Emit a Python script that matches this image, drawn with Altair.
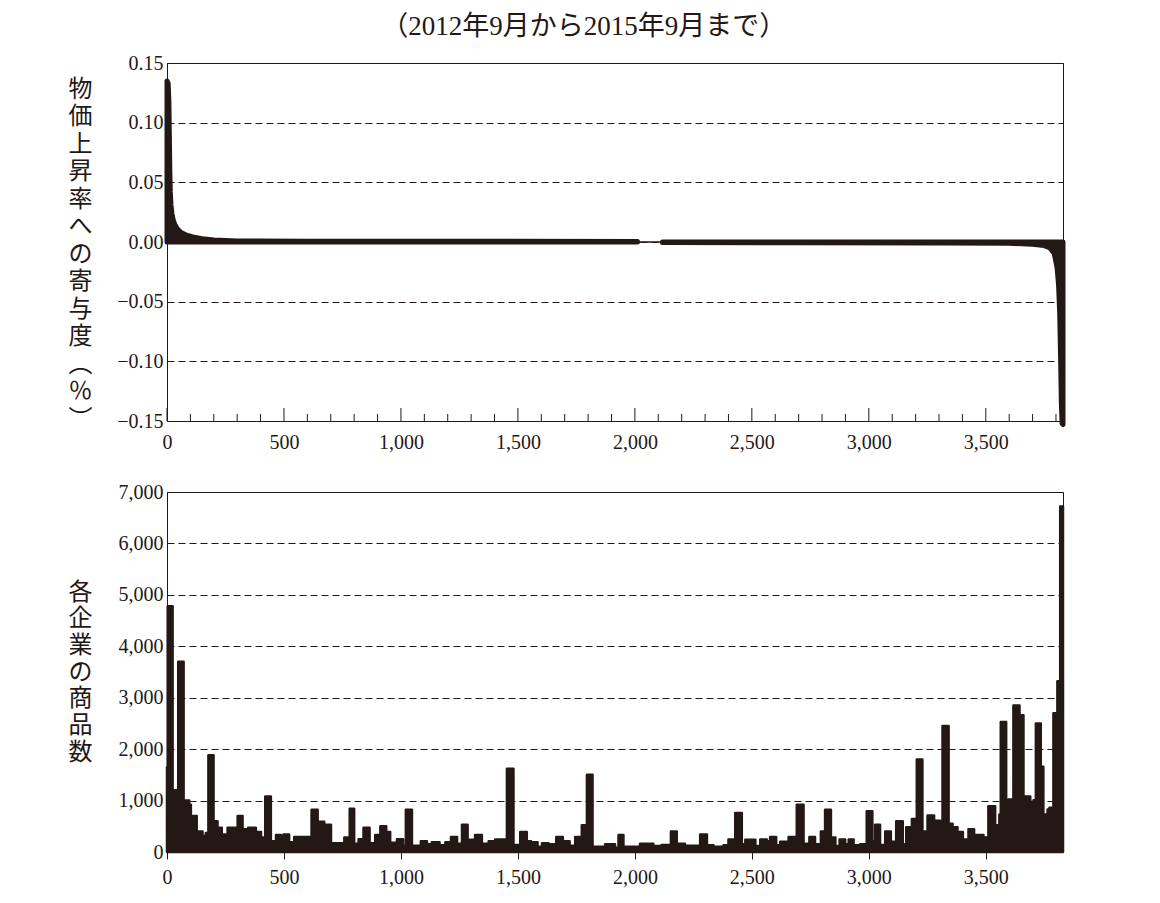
import altair as alt
import pandas as pd

INK = "#231815"

TITLE = "（2012年9月から2015年9月まで）"
TOP_YTITLE = list("物価上昇率への寄与度") + ["︵", "％", "︶"]
BOT_YTITLE = list("各企業の商品数")

X_MAX = 3830

# top panel: contribution to inflation (sorted), positive part
pos_rank = [0, 5, 8, 10, 12, 14, 17, 21, 27, 35, 46, 60, 80, 110, 150, 200, 300, 600, 1200, 2011]
pos_val = [0.135, 0.133, 0.118, 0.09, 0.06, 0.042, 0.031, 0.024, 0.018, 0.014, 0.0105, 0.008,
           0.006, 0.0042, 0.0028, 0.0016, 0.0009, 0.0007, 0.0006, 0.0005]
# zero-contribution companies
zero_rank = [2011, 2118]
zero_val = [0.0, 0.0]
# negative part
neg_rank = [2118, 2700, 3300, 3600, 3700, 3750, 3775, 3793, 3805, 3811, 3816, 3820, 3823, 3826, 3830]
neg_val = [-0.0005, -0.0006, -0.0008, -0.0011, -0.0018, -0.003, -0.005, -0.01, -0.022, -0.036,
           -0.06, -0.10, -0.135, -0.152, -0.153]

# bottom panel: number of products per company (step breakpoints)
bot_rank = [0, 3, 24, 42, 48, 71, 95, 102, 127, 152, 166, 177, 199, 216, 234, 259, 302, 323, 347, 380,
            402, 420, 444, 466, 487, 498, 522, 544, 618, 644, 672, 701, 758, 781, 800, 819, 840, 866, 890, 912,
            937, 954, 983, 1009, 1021, 1047, 1085, 1111, 1132, 1165, 1190, 1214, 1240, 1261, 1285, 1293, 1317, 1346, 1375, 1403,
            1453, 1481, 1510, 1538, 1556, 1584, 1603, 1631, 1664, 1692, 1721, 1745, 1773, 1795, 1819, 1873, 1915, 1930, 1951, 2022,
            2079, 2114, 2154, 2179, 2214, 2279, 2308, 2336, 2379, 2400, 2429, 2457, 2472, 2515, 2536, 2564, 2578, 2604, 2621, 2657,
            2692, 2721, 2746, 2770, 2795, 2813, 2838, 2857, 2875, 2899, 2914, 2935, 2963, 2991, 3015, 3027, 3048, 3070, 3094, 3117,
            3145, 3160, 3184, 3205, 3229, 3251, 3279, 3305, 3315, 3341, 3358, 3379, 3402, 3426, 3450, 3490, 3511, 3540, 3558, 3564,
            3587, 3597, 3618, 3644, 3661, 3690, 3704, 3714, 3735, 3746, 3764, 3772, 3789, 3806, 3818, 3830]
bot_val = [1650, 4780, 1200, 1110, 3700, 1000, 920, 700, 400, 310, 370, 1880, 600, 470, 340, 470, 700, 440, 470, 390,
           280, 1080, 210, 330, 280, 340, 190, 290, 820, 590, 530, 170, 280, 840, 160, 250, 470, 170, 330, 500,
           390, 180, 250, 120, 820, 120, 210, 150, 190, 130, 190, 290, 160, 530, 150, 240, 330, 160, 210, 245,
           1620, 135, 390, 210, 190, 100, 170, 150, 290, 210, 120, 290, 520, 1500, 100, 150, 85, 330, 100, 160,
           115, 135, 400, 160, 120, 340, 130, 100, 130, 245, 760, 150, 240, 115, 245, 210, 290, 130, 200, 290,
           920, 160, 290, 150, 400, 820, 280, 115, 245, 150, 245, 130, 150, 790, 210, 530, 135, 400, 200, 600,
           150, 480, 640, 1800, 400, 710, 610, 370, 2450, 550, 480, 390, 245, 440, 330, 280, 890, 520, 730, 2530,
           660, 1020, 2850, 2660, 1080, 970, 1006, 2500, 1660, 730, 826, 858, 2696, 3320, 6720, 6720]

x_major = [0, 500, 1000, 1500, 2000, 2500, 3000, 3500]
x_minor = [100, 200, 300, 400, 600, 700, 800, 900, 1100, 1200, 1300, 1400, 1600, 1700, 1800, 1900,
           2100, 2200, 2300, 2400, 2600, 2700, 2800, 2900, 3100, 3200, 3300, 3400, 3600, 3700, 3800]
top_yticks = [-0.15, -0.10, -0.05, 0.0, 0.05, 0.10, 0.15]
bot_yticks = [0, 1000, 2000, 3000, 4000, 5000, 6000, 7000]

TOP_H = 358
BOT_H = 360
W = 896

pos_df = pd.DataFrame({"rank": pos_rank, "value": pos_val})
neg_df = pd.DataFrame({"rank": neg_rank, "value": neg_val})
zero_df = pd.DataFrame({"rank": zero_rank, "value": zero_val})
major_df = pd.DataFrame({"rank": x_major})
minor_df = pd.DataFrame({"rank": x_minor})
bot_df = pd.DataFrame({"rank": bot_rank, "value": bot_val})

xscale = alt.Scale(domain=[0, X_MAX], nice=False, zero=False)
ytop_scale = alt.Scale(domain=[-0.15, 0.15], nice=False)
ybot_scale = alt.Scale(domain=[0, 7000], nice=False)

CJK = "Noto Sans CJK JP"
SERIF = "Liberation Serif"

x_top_axis = alt.Axis(values=x_major, format=",.0f", ticks=False, grid=False, title=None,
                      labelPadding=11, labelFlush=False)
y_top_axis = alt.Axis(values=top_yticks, format=".2f", ticks=False, grid=True,
                      gridDash=[7, 4], gridColor=INK, gridWidth=1, gridOpacity=1,
                      title=TOP_YTITLE, titleAngle=0, titleX=-87, titleY=14,
                      titleAlign="center", titleBaseline="top", titleLineHeight=27.5,
                      titleFont=CJK, titleFontSize=24, titleFontWeight="normal",
                      titleColor=INK, labelPadding=4)

pos = alt.Chart(pos_df).mark_area(color=INK, stroke=INK, strokeWidth=5, strokeJoin="round").encode(
    x=alt.X("rank:Q", scale=xscale, axis=x_top_axis),
    y=alt.Y("value:Q", scale=ytop_scale, axis=y_top_axis),
)
neg = alt.Chart(neg_df).mark_area(color=INK, stroke=INK, strokeWidth=5, strokeJoin="round").encode(
    x=alt.X("rank:Q"), y=alt.Y("value:Q")
)
zero = alt.Chart(zero_df).mark_line(color=INK, strokeWidth=1.5).encode(
    x=alt.X("rank:Q"), y=alt.Y("value:Q")
)
tick_major = alt.Chart(major_df).mark_rule(color=INK, strokeWidth=1).encode(
    x=alt.X("rank:Q"), y=alt.value(TOP_H), y2=alt.value(TOP_H - 13)
)
tick_minor = alt.Chart(minor_df).mark_rule(color=INK, strokeWidth=1).encode(
    x=alt.X("rank:Q"), y=alt.value(TOP_H), y2=alt.value(TOP_H - 7)
)

top = alt.layer(pos, neg, zero, tick_major, tick_minor).properties(width=W, height=TOP_H)

bottom = alt.Chart(bot_df).mark_area(
    interpolate="step-after", color=INK, stroke=INK, strokeWidth=2.5, strokeJoin="round"
).encode(
    x=alt.X("rank:Q", scale=xscale,
            axis=alt.Axis(values=x_major, format=",.0f", ticks=True, tickSize=7, tickColor=INK,
                          tickWidth=1, title=None, labelPadding=8, labelFlush=False, grid=False)),
    y=alt.Y("value:Q", scale=ybot_scale,
            axis=alt.Axis(values=bot_yticks, format=",.0f", ticks=False, grid=True,
                          gridDash=[7, 4], gridColor=INK, gridWidth=1, gridOpacity=1,
                          title=BOT_YTITLE, titleAngle=0, titleX=-87, titleY=88,
                          titleAlign="center", titleBaseline="top", titleLineHeight=26.7,
                          titleFont=CJK, titleFontSize=24, titleFontWeight="normal",
                          titleColor=INK, labelPadding=4)),
).properties(width=W, height=BOT_H)

chart = alt.vconcat(top, bottom, spacing=28).properties(
    title=alt.TitleParams(TITLE, anchor="middle", font=SERIF + ", " + CJK, fontSize=27,
                          fontWeight="normal", color=INK, offset=12, dx=17),
    padding={"left": 59, "top": 4, "right": 10, "bottom": 4},
    background="white",
).configure_view(stroke=INK, strokeWidth=1).configure_axis(
    domainColor=INK, domainWidth=1, labelColor=INK, labelFont=SERIF,
    labelFontSize=20,
)

chart.save("out.html", embed_options={"renderer": "svg", "actions": False})
